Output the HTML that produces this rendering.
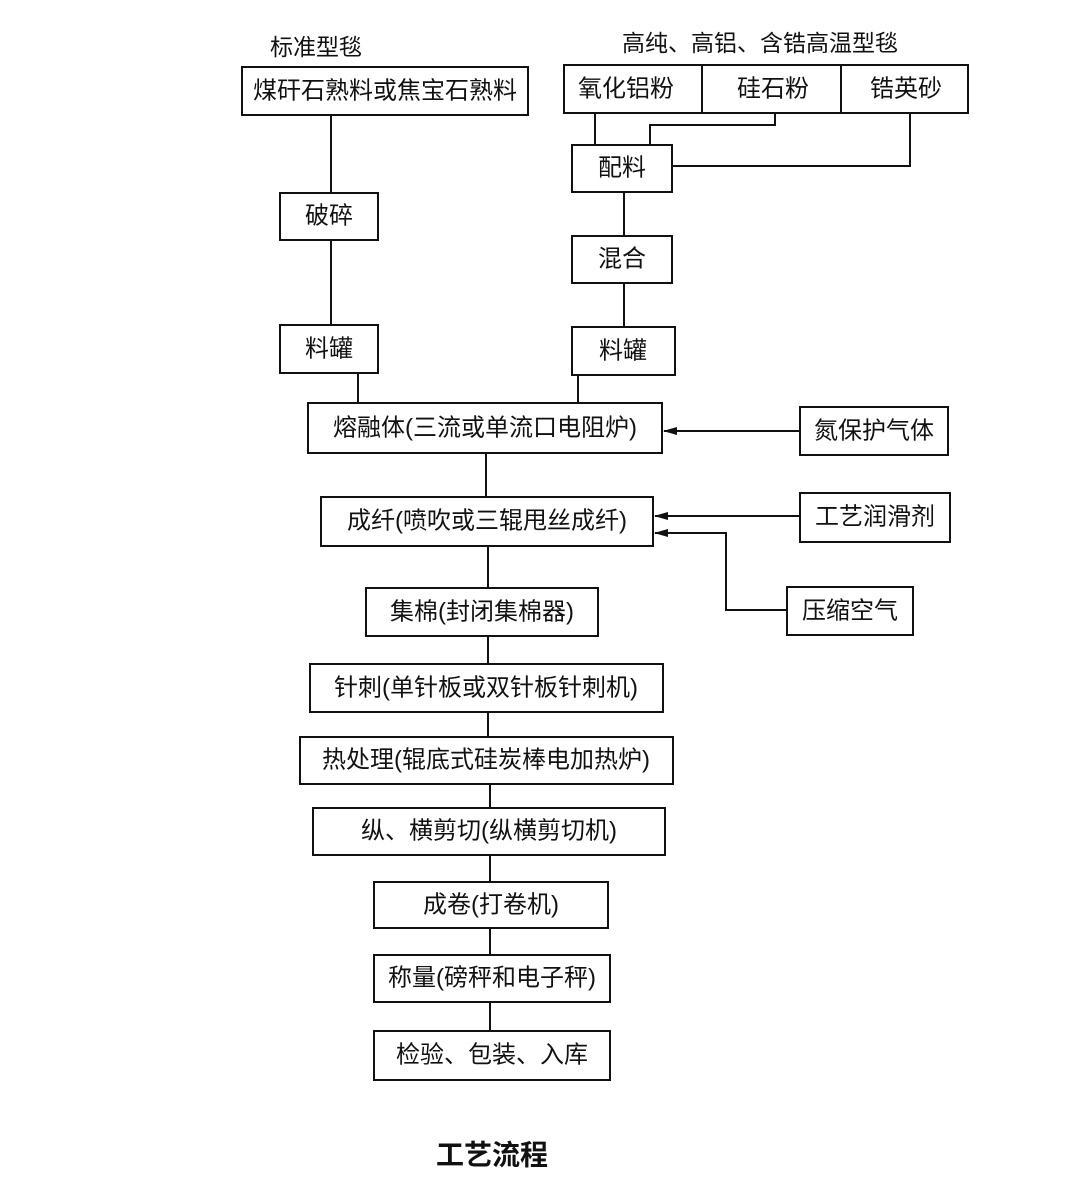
<!DOCTYPE html>
<html><head><meta charset="utf-8">
<style>
html,body{margin:0;padding:0;background:#fff;}
svg text{font-family:"Liberation Sans","Noto Sans CJK SC",sans-serif;fill:#111;}
</style></head>
<body>
<svg width="1080" height="1199" viewBox="0 0 1080 1199" xmlns="http://www.w3.org/2000/svg">
<defs>
<marker id="ar" markerWidth="14" markerHeight="8" refX="13" refY="4" orient="auto" markerUnits="userSpaceOnUse">
<path d="M0,0 L14,4 L0,8 Z" fill="#111"/>
</marker>
</defs>
<g fill="none" stroke="#111" stroke-width="2">
<!-- left column -->
<rect x="242" y="67" width="286" height="48"/>
<line x1="331" y1="115" x2="331" y2="193"/>
<rect x="280" y="193" width="98" height="47"/>
<line x1="331" y1="240" x2="331" y2="325"/>
<rect x="280" y="325" width="98" height="48"/>
<line x1="358" y1="373" x2="358" y2="403"/>
<!-- right top -->
<rect x="564" y="65" width="138" height="48"/>
<rect x="702" y="65" width="139" height="48"/>
<rect x="841" y="65" width="127" height="48"/>
<line x1="595" y1="113" x2="595" y2="145"/>
<polyline points="775,113 775,125 650,125 650,145"/>
<polyline points="910,113 910,166 672,166"/>
<rect x="572" y="145" width="100" height="47"/>
<line x1="624" y1="192" x2="624" y2="236"/>
<rect x="572" y="236" width="100" height="47"/>
<line x1="624" y1="283" x2="624" y2="327"/>
<rect x="572" y="327" width="103" height="48"/>
<line x1="578" y1="375" x2="578" y2="403"/>
<!-- main -->
<rect x="308" y="403" width="354" height="50"/>
<line x1="800" y1="431" x2="664" y2="431" marker-end="url(#ar)"/>
<rect x="800" y="407" width="148" height="48"/>
<line x1="486" y1="453" x2="486" y2="497"/>
<rect x="321" y="497" width="332" height="49"/>
<line x1="800" y1="516" x2="655" y2="516" marker-end="url(#ar)"/>
<rect x="800" y="493" width="150" height="49"/>
<polyline points="787,610 726,610 726,533 655,533" marker-end="url(#ar)"/>
<rect x="787" y="587" width="126" height="48"/>
<line x1="488" y1="546" x2="488" y2="588"/>
<rect x="366" y="588" width="232" height="48"/>
<line x1="488" y1="636" x2="488" y2="664"/>
<rect x="310" y="664" width="353" height="48"/>
<line x1="488" y1="712" x2="488" y2="737"/>
<rect x="300" y="737" width="373" height="47"/>
<line x1="490" y1="784" x2="490" y2="808"/>
<rect x="313" y="808" width="352" height="47"/>
<line x1="490" y1="855" x2="490" y2="882"/>
<rect x="374" y="882" width="234" height="46"/>
<line x1="490" y1="928" x2="490" y2="955"/>
<rect x="374" y="955" width="236" height="47"/>
<line x1="490" y1="1002" x2="490" y2="1031"/>
<rect x="374" y="1031" width="236" height="49"/>
</g>
<g font-size="23" text-anchor="middle" dominant-baseline="central">
<text x="316" y="47">标准型毯</text>
<text x="760" y="43">高纯、高铝、含锆高温型毯</text>
<text x="385" y="91" font-size="24">煤矸石熟料或焦宝石熟料</text>
<text x="329" y="216" font-size="24">破碎</text>
<text x="329" y="349" font-size="24">料罐</text>
<text x="626" y="89" font-size="24">氧化铝粉</text>
<text x="773" y="89" font-size="24">硅石粉</text>
<text x="906" y="89" font-size="24">锆英砂</text>
<text x="622" y="168" font-size="24">配料</text>
<text x="622" y="259" font-size="24">混合</text>
<text x="623" y="351" font-size="24">料罐</text>
<text x="485" y="428" font-size="24">熔融体(三流或单流口电阻炉)</text>
<text x="874" y="431" font-size="24">氮保护气体</text>
<text x="487" y="521" font-size="24">成纤(喷吹或三辊甩丝成纤)</text>
<text x="875" y="517" font-size="24">工艺润滑剂</text>
<text x="482" y="612" font-size="24">集棉(封闭集棉器)</text>
<text x="850" y="611" font-size="24">压缩空气</text>
<text x="486" y="688" font-size="24">针刺(单针板或双针板针刺机)</text>
<text x="486" y="760" font-size="24">热处理(辊底式硅炭棒电加热炉)</text>
<text x="489" y="831" font-size="24">纵、横剪切(纵横剪切机)</text>
<text x="491" y="905" font-size="24">成卷(打卷机)</text>
<text x="492" y="978" font-size="24">称量(磅秤和电子秤)</text>
<text x="492" y="1055" font-size="24">检验、包装、入库</text>
<text x="492" y="1155" font-size="28" font-weight="bold">工艺流程</text>
</g>
</svg>
</body></html>
